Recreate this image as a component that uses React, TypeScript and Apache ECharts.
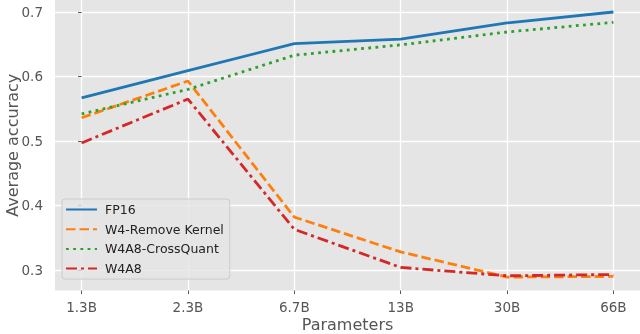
import React, { useEffect, useRef } from "react";
import * as echarts from "echarts";

const categories = ["1.3B", "2.3B", "6.7B", "13B", "30B", "66B"];
const fp16 = [0.567, 0.609, 0.651, 0.658, 0.683, 0.700];
const removeKernel = [0.536, 0.593, 0.382, 0.328, 0.289, 0.290];
const crossQuant = [0.542, 0.580, 0.633, 0.649, 0.669, 0.684];
const w4a8 = [0.497, 0.565, 0.363, 0.304, 0.291, 0.293];
const yTicks = [0.3, 0.4, 0.5, 0.6, 0.7];

const FONT = "DejaVu Sans";

export default function App() {
  const ref = useRef<HTMLDivElement>(null);
  useEffect(() => {
    if (!ref.current) return;
    const chart = echarts.init(ref.current, null, { renderer: "svg" });
    const pts = (arr: number[]) => arr.map((v, i) => [i, v]);
    const mk = (name: string, data: number[], color: string, type: any) => ({
      name,
      type: "line",
      data: pts(data),
      symbol: "none",
      showSymbol: false,
      lineStyle: { color, width: 2.8, type, cap: "butt" },
      itemStyle: { color },
      z: 3,
    });
    chart.setOption({
      animation: false,
      textStyle: { fontFamily: FONT },
      grid: {
        left: 55,
        right: 0,
        top: 0,
        bottom: 43.5,
        show: true,
        backgroundColor: "#e5e5e5",
        borderWidth: 0,
        containLabel: false,
        outerBoundsMode: "none",
      },
      legend: {
        orient: "vertical",
        left: 62,
        top: 199,
        itemWidth: 31,
        itemHeight: 14,
        itemGap: 6.7,
        padding: [4, 6, 4, 3],
        backgroundColor: "rgba(229,229,229,0.8)",
        borderColor: "#cccccc",
        borderWidth: 1,
        borderRadius: 3,
        itemStyle: { opacity: 0 },
        textStyle: { fontFamily: FONT, fontSize: 12.5, color: "#222", padding: [0, 0, 0, 3] },
        data: ["FP16", "W4-Remove Kernel", "W4A8-CrossQuant", "W4A8"],
      },
      xAxis: {
        type: "value",
        min: -0.25,
        max: 5.25,
        name: "Parameters",
        nameLocation: "middle",
        nameGap: 26,
        nameMoveOverlap: false,
        nameTextStyle: { fontFamily: FONT, fontSize: 16, color: "#555" },
        axisLine: { show: false },
        axisTick: { show: true, length: 3.5, lineStyle: { color: "#555", width: 1 }, customValues: [0, 1, 2, 3, 4, 5] },
        axisLabel: {
          customValues: [0, 1, 2, 3, 4, 5],
          formatter: (v: number) => categories[Math.round(v)] ?? "",
          fontFamily: FONT,
          fontSize: 13.5,
          color: "#555",
          margin: 9,
        },
        splitLine: { show: true, lineStyle: { color: "#ffffff", width: 1.3 } },
      },
      yAxis: {
        type: "value",
        min: 0.2682,
        max: 0.7186,
        name: "Average accuracy",
        nameLocation: "middle",
        nameGap: 35,
        nameMoveOverlap: false,
        nameTextStyle: { fontFamily: FONT, fontSize: 16, color: "#555" },
        axisLine: { show: false },
        axisTick: { show: true, length: 3.5, lineStyle: { color: "#555", width: 1 }, customValues: yTicks },
        axisLabel: {
          customValues: yTicks,
          formatter: (v: number) => v.toFixed(1),
          fontFamily: FONT,
          fontSize: 13.5,
          color: "#555",
          margin: 12,
        },
        splitLine: { show: true, lineStyle: { color: "#ffffff", width: 1.3 } },
      },
      series: [
        mk("FP16", fp16, "#1f77b4", "solid"),
        mk("W4-Remove Kernel", removeKernel, "#ff7f0e", [9.5, 4]),
        mk("W4A8-CrossQuant", crossQuant, "#2ca02c", [2.8, 4.4]),
        mk("W4A8", w4a8, "#d62728", [11, 4, 3, 4]),
      ],
    });
    return () => chart.dispose();
  }, []);
  return <div ref={ref} style={{ position: "fixed", left: 0, top: 0, width: 640, height: 334 }} />;
}
